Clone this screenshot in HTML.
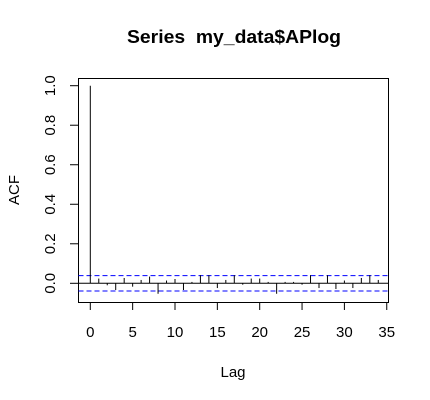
<!DOCTYPE html>
<html><head><meta charset="utf-8"><style>body{margin:0;background:#fff}svg{display:block}</style></head>
<body>
<svg id="chart" width="430" height="400" xmlns="http://www.w3.org/2000/svg" font-family="Liberation Sans, Arial, sans-serif">
<text x="127" y="43" font-size="18" font-weight="bold" textLength="214" lengthAdjust="spacingAndGlyphs">Series&#160;&#160;my_data$APlog</text>
<text x="233" y="377" text-anchor="middle" font-size="15">Lag</text>
<text x="19" y="190" text-anchor="middle" font-size="15" transform="rotate(-90 19 190)">ACF</text>
<rect x="78.5" y="78.5" width="310" height="224" fill="none" stroke="#000"/>
<g id="marks"></g>
</svg>
<script>
const lags = [0,1,2,3,4,5,6,7,8,9,10,11,12,13,14,15,16,17,18,19,20,21,22,23,24,25,26,27,28,29,30,31,32,33,34];
const acfValues = [1.0,0.024,-0.010,-0.034,0.027,-0.017,0.017,0.034,-0.053,0.014,0.022,-0.034,0.007,0.041,0.041,-0.024,0.017,0.041,-0.007,0.024,0.024,0.007,-0.053,0.007,0.007,-0.007,0.041,-0.024,0.041,-0.029,0.014,-0.024,0.027,0.041,0.017];
const ciBound = 0.039;
const xTicks = [0,5,10,15,20,25,30,35];
const yTicks = [0.0,0.2,0.4,0.6,0.8,1.0];
const X = v => 90.3 + v*8.47;
const Y = v => 283.3 - v*197.6;
const NS='http://www.w3.org/2000/svg';
const g = document.getElementById('marks');
function mk(tag, attrs){const e=document.createElementNS(NS,tag);for(const k in attrs)e.setAttribute(k,attrs[k]);g.appendChild(e);return e;}
let e;
e = mk('line',{x1:78.5,x2:388.5,y1:Y(0),y2:Y(0),stroke:'#000'});


[ciBound,-ciBound].forEach((b,i)=>{
  const l = mk('line',{x1:78.5,x2:388.5,y1:Y(b),y2:Y(b),stroke:'#0000ff','stroke-dasharray':'5,3'});
  
  
});
lags.forEach((k,i)=>{
  const l = mk('line',{x1:X(k),x2:X(k),y1:Y(0),y2:Y(acfValues[i]),stroke:'#000'});
  
  
});
xTicks.forEach(t=>{
  const l = mk('line',{x1:X(t),x2:X(t),y1:302.5,y2:310,stroke:'#000'});
  
  
  const tx = mk('text',{x:X(t),y:337,'text-anchor':'middle','font-size':15});
  tx.textContent = t;
  
  
});
yTicks.forEach(t=>{
  const y = Y(t);
  const l = mk('line',{x1:70,x2:78.5,y1:y,y2:y,stroke:'#000'});
  
  
  const tx = mk('text',{x:55,y:y,'text-anchor':'middle','font-size':15,transform:'rotate(-90 55 '+y+')'});
  tx.textContent = t.toFixed(1);
  
  
});
</script>
</body></html>
